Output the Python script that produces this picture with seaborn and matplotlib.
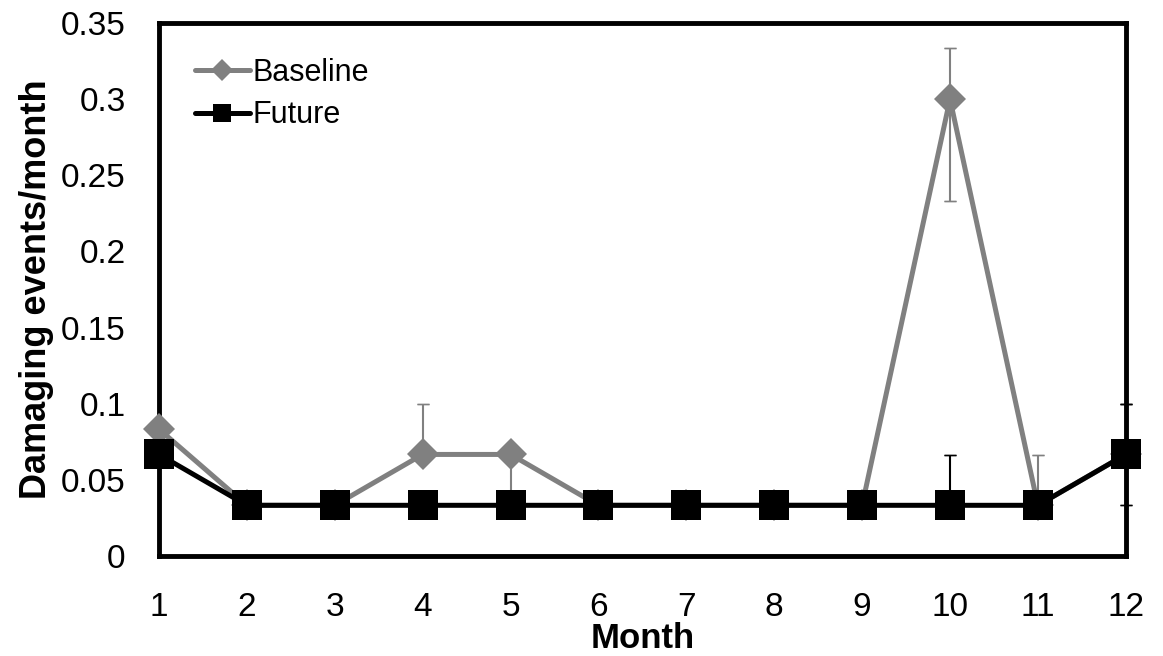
import matplotlib
matplotlib.use("Agg")
import matplotlib.pyplot as plt
import seaborn as sns
import pandas as pd
import numpy as np

months = list(range(1, 13))
baseline = [0.0833, 0.0333, 0.0333, 0.0667, 0.0667, 0.0333, 0.0333, 0.0333, 0.0333, 0.3, 0.0333, 0.0667]
future = [0.0667, 0.0333, 0.0333, 0.0333, 0.0333, 0.0333, 0.0333, 0.0333, 0.0333, 0.0333, 0.0333, 0.0667]
# asymmetric error bars (lower, upper)
base_lo = [0, 0, 0, 0, 0.0333, 0, 0, 0, 0, 0.0667, 0, 0]
base_hi = [0, 0, 0, 0.0333, 0, 0, 0, 0, 0, 0.0333, 0.0333, 0.0333]
fut_lo = [0, 0, 0, 0, 0, 0, 0, 0, 0, 0, 0, 0.0333]
fut_hi = [0, 0, 0, 0, 0, 0, 0, 0, 0, 0.0333, 0, 0.0333]
yticks = [0, 0.05, 0.1, 0.15, 0.2, 0.25, 0.3, 0.35]
yticklabels = ["0", "0.05", "0.1", "0.15", "0.2", "0.25", "0.3", "0.35"]

sns.set_style("white")
plt.rcParams['font.family'] = ['Liberation Sans', 'DejaVu Sans']
plt.rcParams['text.color'] = 'black'
plt.rcParams['axes.labelcolor'] = 'black'
plt.rcParams['xtick.color'] = 'black'
plt.rcParams['ytick.color'] = 'black'

GREY = "#808080"
df_b = pd.DataFrame({"Month": months, "val": baseline})
df_f = pd.DataFrame({"Month": months, "val": future})

fig = plt.figure(figsize=(11.63, 6.56), dpi=100)
ax = fig.add_axes([0.1367, 0.1524, 0.968 - 0.1367, 0.965 - 0.1524])

def errs(x, y, lo, hi, color, z):
    x = np.array(x); y = np.array(y); lo = np.array(lo); hi = np.array(hi)
    # lower and upper drawn apart so that a zero side gets no cap
    ml = lo > 0
    if ml.any():
        ax.errorbar(x[ml], y[ml], yerr=[lo[ml], np.zeros(ml.sum())], fmt='none',
                    ecolor=color, elinewidth=1.5, capsize=0, zorder=z, clip_on=False)
        ax.errorbar(x[ml], y[ml] - lo[ml], yerr=0, fmt='none', ecolor=color,
                    elinewidth=1.5, capsize=4.3, zorder=z, clip_on=False)
    mh = hi > 0
    if mh.any():
        ax.errorbar(x[mh], y[mh], yerr=[np.zeros(mh.sum()), hi[mh]], fmt='none',
                    ecolor=color, elinewidth=1.5, capsize=0, zorder=z, clip_on=False)
        ax.errorbar(x[mh], y[mh] + hi[mh], yerr=0, fmt='none', ecolor=color,
                    elinewidth=1.5, capsize=4.3, zorder=z, clip_on=False)

errs(months, baseline, base_lo, base_hi, GREY, 2)
sns.lineplot(data=df_b, x="Month", y="val", ax=ax, color=GREY, marker="D",
             markersize=16, markeredgewidth=0, linewidth=3.6, label="Baseline",
             clip_on=False, zorder=3)
errs(months, future, fut_lo, fut_hi, "black", 4)
sns.lineplot(data=df_f, x="Month", y="val", ax=ax, color="black", marker="s",
             markersize=21, markeredgewidth=0, linewidth=3.6, label="Future",
             clip_on=False, zorder=5)

ax.set_xlim(1, 12)
ax.set_ylim(0, 0.35)
ax.set_xticks(months)
ax.set_xticklabels([str(m) for m in months], fontsize=24)
ax.set_yticks(yticks)
ax.set_yticklabels(yticklabels, fontsize=24)
ax.tick_params(axis='both', direction='in', length=7, width=2.5, color='black')
ax.tick_params(axis='x', pad=26)
ax.tick_params(axis='y', pad=24)
for s in ax.spines.values():
    s.set_color('black')
    s.set_linewidth(3.5)
    s.set_visible(True)
ax.set_xlabel("Month", fontsize=25, fontweight='bold', labelpad=-1)
ax.set_ylabel("Damaging events/month", fontsize=26, fontweight='bold', labelpad=5)

leg = ax.legend(loc='upper left', frameon=False, fontsize=22, handlelength=1.8,
                handletextpad=0.1, labelspacing=0.42, borderaxespad=0, borderpad=0,
                bbox_to_anchor=(0.037, 0.935))
for h, ms in zip(leg.legend_handles, [11, 13]):
    h.set_markersize(ms)

fig.savefig("out.png", dpi=100)
